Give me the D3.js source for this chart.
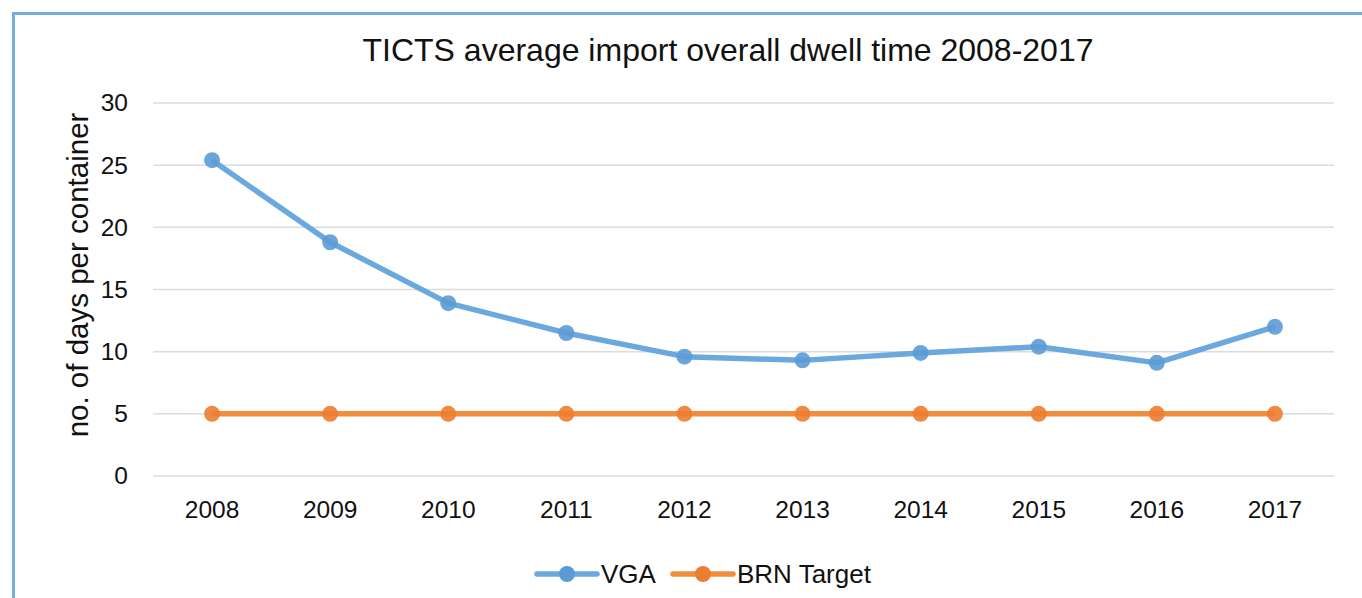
<!DOCTYPE html>
<html>
<head>
<meta charset="utf-8">
<script src="https://cdn.jsdelivr.net/npm/d3@7"></script>
<style>
  body { margin: 0; background: #fff; }
  svg { display: block; font-family: "Liberation Sans", Arial, sans-serif; }
</style>
</head>
<body>
<div id="chart"></div>
<script>
const years = ["2008", "2009", "2010", "2011", "2012", "2013", "2014", "2015", "2016", "2017"];
const vga = [25.4, 18.8, 13.9, 11.5, 9.6, 9.3, 9.9, 10.4, 9.1, 12.0];
const brnTarget = [5, 5, 5, 5, 5, 5, 5, 5, 5, 5];
const yTicks = [0, 5, 10, 15, 20, 25, 30];

const W = 1362, H = 598;
const margin = {top: 103, right: 28, bottom: 122, left: 153};

const svg = d3.select("#chart").append("svg")
    .attr("width", W)
    .attr("height", H);

// frame
svg.append("path")
    .attr("d", "M13.5," + H + " V13.5 H" + W)
    .attr("fill", "none")
    .attr("stroke", "#74aee0")
    .attr("stroke-width", 3);

var x = d3.scaleBand()
    .domain(years)
    .range([margin.left, W - margin.right]);

var y = d3.scaleLinear()
    .domain([0, 30])
    .range([H - margin.bottom, margin.top]);

// gridlines
svg.append("g")
    .selectAll("line")
    .data(yTicks)
    .enter()
    .append("line")
    .attr("x1", margin.left)
    .attr("x2", W - margin.right)
    .attr("y1", d => y(d))
    .attr("y2", d => y(d))
    .attr("stroke", "#dcdcdc")
    .attr("stroke-width", 1.5);

// y axis
var yAxis = svg.append("g")
    .attr("transform", "translate(" + margin.left + ",0)")
    .call(d3.axisLeft(y).tickValues(yTicks).tickSize(0).tickPadding(25));
yAxis.select(".domain").remove();
yAxis.selectAll("text").attr("font-size", 24.5).attr("fill", "#111").attr("font-family", null);

// x axis
var xAxis = svg.append("g")
    .attr("transform", "translate(0," + (H - margin.bottom) + ")")
    .call(d3.axisBottom(x).tickSize(0).tickPadding(25));
xAxis.select(".domain").remove();
xAxis.selectAll("text").attr("font-size", 24.5).attr("fill", "#111").attr("font-family", null);

// title
svg.append("text")
    .attr("x", 728)
    .attr("y", 61)
    .attr("text-anchor", "middle")
    .attr("font-size", 32)
    .attr("fill", "#111")
    .text("TICTS average import overall dwell time 2008-2017");

// y label
svg.append("text")
    .attr("transform", "translate(88,275) rotate(-90)")
    .attr("text-anchor", "middle")
    .attr("font-size", 29.5)
    .attr("fill", "#111")
    .text("no. of days per container");

var series = [
    {name: "VGA", values: vga, line: "#6aa8de", dot: "#5b9bd5"},
    {name: "BRN Target", values: brnTarget, line: "#f08e3e", dot: "#ed7d31"}
];

var line = d3.line()
    .x((d, i) => x(years[i]) + x.bandwidth() / 2)
    .y(d => y(d));

series.slice().reverse().forEach(function(s) {
    svg.append("path")
        .datum(s.values)
        .attr("d", line)
        .attr("fill", "none")
        .attr("stroke", s.line)
        .attr("stroke-width", 5.5)
        .attr("stroke-linejoin", "round");

    svg.append("g")
        .selectAll("circle")
        .data(s.values)
        .enter()
        .append("circle")
        .attr("cx", (d, i) => x(years[i]) + x.bandwidth() / 2)
        .attr("cy", d => y(d))
        .attr("r", 8)
        .attr("fill", s.dot)
        .attr("opacity", 0.9);
});

// legend
var legendX = [537, 673];
var legend = svg.append("g").attr("transform", "translate(0,574)");
series.forEach(function(s, i) {
    var g = legend.append("g").attr("transform", "translate(" + legendX[i] + ",0)");
    g.append("line")
        .attr("x1", 0).attr("x2", 60)
        .attr("stroke", s.line)
        .attr("stroke-width", 5.5)
        .attr("stroke-linecap", "round");
    g.append("circle")
        .attr("cx", 30)
        .attr("r", 8)
        .attr("fill", s.dot);
    g.append("text")
        .attr("x", 64)
        .attr("dy", "0.36em")
        .attr("font-size", 26)
        .attr("fill", "#111")
        .text(s.name);
});
</script>
</body>
</html>
